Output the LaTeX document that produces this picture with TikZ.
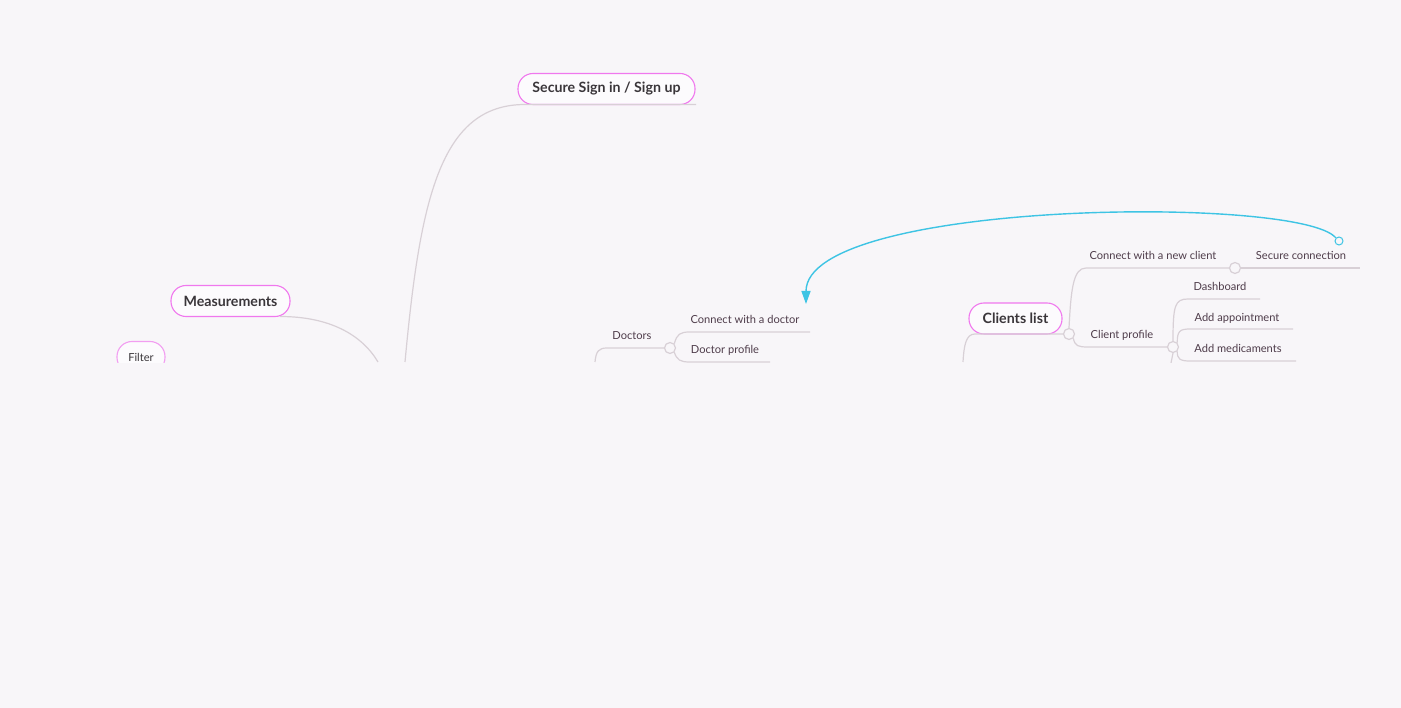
\documentclass[tikz,border=0pt]{standalone}
\usepackage{fontspec}
\setmainfont{Lato}
\usetikzlibrary{arrows.meta}
\definecolor{paper}{RGB}{248,246,249}
\definecolor{pinkline}{RGB}{240,120,238}
\definecolor{twig}{RGB}{216,208,214}
\definecolor{inkdark}{RGB}{58,54,58}
\definecolor{inkleaf}{RGB}{78,60,74}
\definecolor{linkblue}{RGB}{62,196,228}
\tikzset{
  topic/.style={draw=pinkline,line width=1.1pt,fill=white!60!paper,rounded corners=15pt,
    minimum height=31pt,inner xsep=10pt,text=inkdark,font=\bfseries\fontsize{14.2}{16}\selectfont},
  leaf/.style={text=inkleaf,inner sep=0pt,font=\fontsize{11.1}{13}\selectfont},
  branch/.style={twig,line width=1.2pt},
  knot/.style={circle,draw=twig,fill=paper,line width=1.2pt,minimum size=11pt,inner sep=0pt},
}
\def\cut{363}
\begin{document}
\begin{tikzpicture}[x=1pt,y=-1pt]
  \fill[paper] (0,0) rectangle (1401,708);
  \useasboundingbox (0,0) rectangle (1401,708);
  \begin{scope}
  \clip (0,0) rectangle (1401,\cut);

  % SIGN IN
  \node[topic,minimum width=177pt] (signin) at (606.5,89) {Secure Sign in / Sign up};
  \coordinate (signinR) at (696,104.5);
  \draw[branch] (405,362) .. controls (420,200) and (440,104.5) .. (525,104.5) -- (signinR);

  % MEASUREMENTS
  \node[topic,minimum width=119pt] (measure) at (230.5,301) {Measurements};
  \draw[branch] (280,316.5) .. controls (330,316.5) and (362,335) .. (378,362);
  \node[topic,draw=pinkline!70!paper,minimum width=48pt,font=\fontsize{11.1}{13}\selectfont] (filter) at (141,357) {Filter};

  % DOCTORS
  \node[leaf] (doctors) at (632,336) {Doctors};
  \node[knot] (kdoc) at (670,348) {};
  \coordinate (connR) at (810,332);
  \coordinate (profR) at (770,362);
  \draw[branch] (595,362) .. controls (596,351) and (599,348) .. (607,348) -- (kdoc.west);
  \draw[branch] (kdoc.north east) .. controls (677,334) and (680,332) .. (690,332) -- (connR);
  \draw[branch] (kdoc.south east) .. controls (677,360) and (680,362) .. (690,362) -- (profR);
  \node[leaf] (conndoc) at (745,319) {Connect with a doctor};
  \node[leaf] (profdoc) at (725,350) {Doctor profile};

  % CLIENTS
  \node[topic,minimum width=93pt] (clients) at (1015.5,318.5) {Clients list};
  \node[knot] (kcli) at (1069,334) {};
  \node[knot] (knew) at (1235,268) {};
  \node[knot] (kprof) at (1173,347) {};
  \coordinate (secR) at (1360,268);
  \coordinate (dashR) at (1260,299);
  \coordinate (apptR) at (1293,329);
  \coordinate (mediR) at (1296,361);
  \draw[branch] (963,362) .. controls (964,345) and (966,334) .. (975,334) -- (kcli.west);
  \draw[branch] (kcli.north) .. controls (1071,290) and (1073,268) .. (1086,268) -- (knew.west);
  \draw[branch] (knew.east) -- (secR);
  \draw[branch] (kcli.south east) .. controls (1075,346) and (1078,347) .. (1088,347) -- (kprof.west);
  \draw[branch] (kprof.north) .. controls (1173,305) and (1175,299) .. (1188,299) -- (dashR);
  \draw[branch] (kprof.north east) .. controls (1177,331) and (1180,329) .. (1190,329) -- (apptR);
  \draw[branch] (kprof.south east) .. controls (1177,359) and (1180,361) .. (1190,361) -- (mediR);
  \draw[branch] (kprof.south) -- (1171,\cut);
  \node[leaf] (newcli) at (1153,255) {Connect with a new client};
  \node[leaf] (secure) at (1301,255) {Secure connection};
  \node[leaf] (profcli) at (1122,335) {Client profile};
  \node[leaf] (dash) at (1220,286) {Dashboard};
  \node[leaf] (appt) at (1237,318) {Add appointment};
  \node[leaf] (medi) at (1238,348) {Add medicaments};

  % LINK
  \node[circle,draw=linkblue,fill=paper,line width=1pt,minimum size=8pt,inner sep=0pt] (linkstart) at (1339,241) {};
  \coordinate (linkend) at (806,304);
  \draw[linkblue,line width=1.4pt,-{Triangle[length=13pt,width=9pt]}]
    (linkstart.north west) .. controls (1300,195) and (806,200) .. (linkend);
  \end{scope}
\end{tikzpicture}
\end{document}
